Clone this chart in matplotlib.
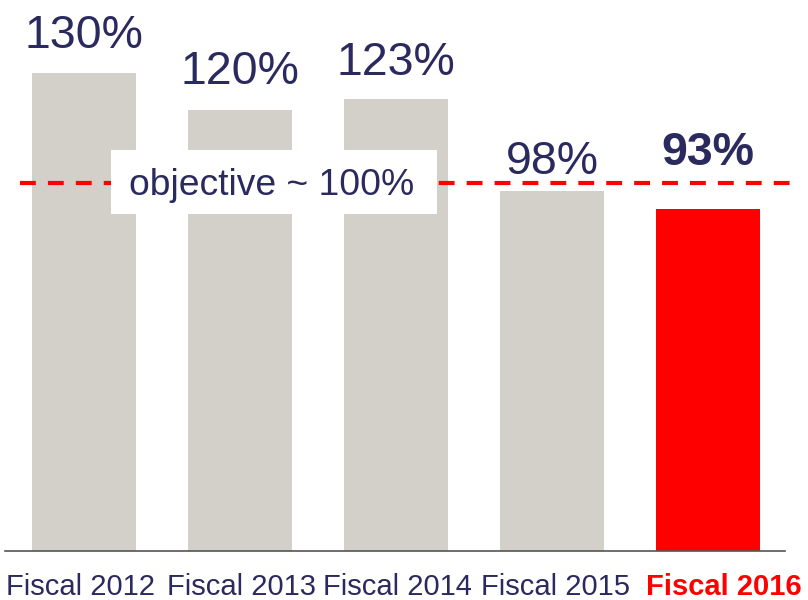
import matplotlib
matplotlib.use("Agg")
import matplotlib.pyplot as plt
from matplotlib.patches import Rectangle
import matplotlib.transforms as mtransforms

categories = ["Fiscal 2012", "Fiscal 2013", "Fiscal 2014", "Fiscal 2015", "Fiscal 2016"]
values = [130, 120, 123, 98, 93]
labels = ["130%", "120%", "123%", "98%", "93%"]
objective = 100
objective_label = "objective ~ 100%"

GRAY = "#d3d0c9"
RED = "#ff0000"
NAVY = "#2b2a5e"

plt.rcParams['font.family'] = ['Liberation Sans', 'DejaVu Sans']

fig = plt.figure(figsize=(8.08, 6.0), dpi=100)
ax = fig.add_axes([5/808, 49/600, 780/808, 551/600])
colors = [GRAY]*4 + [RED]
x = list(range(len(categories)))
ax.bar(x, values, width=0.665, color=colors, zorder=1)
ax.set_xlim(-0.506, 4.494)
ax.set_ylim(0, 149.85)

for s in ["top", "right", "left"]:
    ax.spines[s].set_visible(False)
ax.spines["bottom"].set_color("#555555")
ax.spines["bottom"].set_linewidth(1.2)
ax.set_yticks([])
ax.set_xticks(x)
ax.set_xticklabels(categories, fontsize=21)
ax.tick_params(axis='x', length=0, pad=16)
label_shift_px = [-3, 2, 2, 4, 16]
for i, t in enumerate(ax.get_xticklabels()):
    if i == 4:
        t.set_color(RED)
        t.set_fontweight("bold")
    else:
        t.set_color(NAVY)
    t.set_transform(t.get_transform() + mtransforms.ScaledTranslation(
        label_shift_px[i] / 100, 0, fig.dpi_scale_trans))

# objective line
ax.plot([-0.41, 4.54], [objective, objective], color=RED, lw=3,
        dashes=(3.8, 2.9), clip_on=False, zorder=2)

# label box
ax.add_patch(Rectangle((0.173, 91.65), 2.09, 17.4, facecolor="white",
                       edgecolor="none", zorder=3))
ax.text(1.202, objective - 3.2, objective_label, fontsize=26.8, color=NAVY,
        ha="center", va="baseline", zorder=4)

offsets = [25, 26, 24, 17, 44]
for i, (v, lab) in enumerate(zip(values, labels)):
    ax.annotate(lab, (i, v), xytext=(0, offsets[i]*0.72), textcoords="offset points",
                ha="center", va="baseline", fontsize=33.5, color=NAVY,
                fontweight="bold" if i == 4 else "normal", zorder=5)

fig.savefig("out.png", dpi=100)
